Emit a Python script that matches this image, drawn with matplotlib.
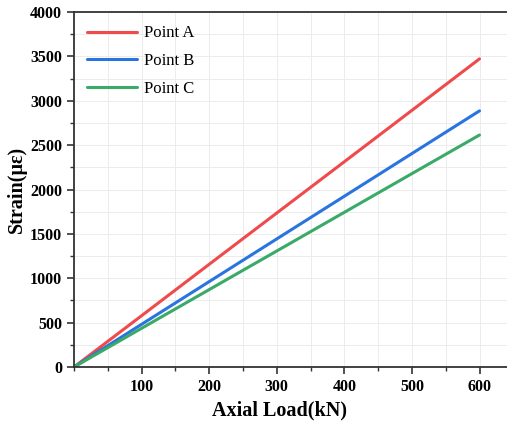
import matplotlib

matplotlib.use("Agg")
import matplotlib.pyplot as plt  # noqa: E402
from matplotlib.ticker import MultipleLocator  # noqa: E402

# values
load_kn = [0, 100, 200, 300, 400, 500, 600]
strain_a = [0, 578, 1157, 1735, 2313, 2892, 3472]
strain_b = [0, 481, 962, 1443, 1924, 2405, 2886]
strain_c = [0, 436, 872, 1307, 1743, 2179, 2614]
labels = ["Point A", "Point B", "Point C"]
colors = ["#ef4a4c", "#2a74e0", "#3aaa68"]

plt.rcParams["font.family"] = ["Liberation Serif", "DejaVu Serif"]

fig = plt.figure(figsize=(5.07, 4.28), dpi=100)
W, H = 507, 428
# axes box in pixels: left 74, top 12, bottom 367, right (cut off by image) 516
ax = fig.add_axes([74 / W, (H - 367) / H, (516 - 74) / W, (367 - 12) / H])

for ys, c, lab in zip([strain_a, strain_b, strain_c], colors, labels):
    ax.plot(load_kn, ys, color=c, lw=2.2, label=lab, solid_capstyle="round")

ax.set_xlim(0, 654)
ax.set_ylim(0, 4000)
ax.xaxis.set_major_locator(MultipleLocator(100))
ax.xaxis.set_minor_locator(MultipleLocator(50))
ax.yaxis.set_major_locator(MultipleLocator(500))
ax.yaxis.set_minor_locator(MultipleLocator(250))
ax.set_xticks([100, 200, 300, 400, 500, 600])

ax.grid(True, which="both", color="#ececec", lw=0.7)
ax.set_axisbelow(True)
for s in ax.spines.values():
    s.set_linewidth(1.3)
    s.set_color("#333333")

ax.tick_params(which="major", direction="out", length=5, width=1.2,
               labelsize=11.5, colors="#333333", labelcolor="black")
ax.tick_params(which="minor", direction="out", length=3, width=1.0,
               colors="#333333")
for t in ax.get_xticklabels() + ax.get_yticklabels():
    t.set_fontweight("bold")

ax.set_xlabel("Axial Load(kN)", fontsize=14.5, fontweight="bold")
ax.xaxis.set_label_coords((280 - 74) / (516 - 74), -33 / 355)
ax.set_ylabel("Strain(με)", fontsize=14.5, fontweight="bold")
ax.yaxis.set_label_coords(-47 / (516 - 74), 0.5)

ax.legend(loc="upper left", frameon=False, fontsize=12, handlelength=3.0,
          labelspacing=0.7, handletextpad=0.4, borderaxespad=0.4,
          bbox_to_anchor=(0.0, 1.0))

fig.savefig("out.png", dpi=100)
